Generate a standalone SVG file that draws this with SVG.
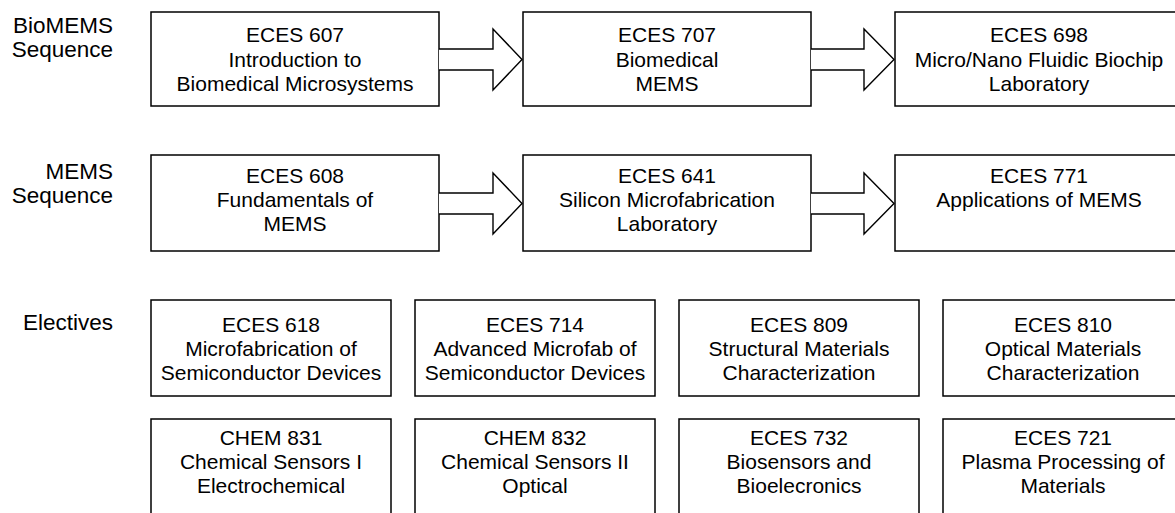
<svg xmlns="http://www.w3.org/2000/svg" width="1175" height="513" viewBox="0 0 1175 513">
<style>
  .box { fill: #fff; stroke: #000; stroke-width: 1.5; }
  .t { font-family: "Liberation Sans", Arial, sans-serif; font-size: 21px; fill: #000; text-anchor: middle; }
  .lbl { font-family: "Liberation Sans", Arial, sans-serif; font-size: 22.5px; fill: #000; text-anchor: end; }
  .arr { fill: #fff; stroke: #000; stroke-width: 1.4; stroke-linejoin: miter; }
</style>
<rect width="1175" height="513" fill="#fff"/>

<g id="labels">
  <text class="lbl" x="113" y="33">BioMEMS</text>
  <text class="lbl" x="113" y="57">Sequence</text>
  <text class="lbl" x="113" y="179">MEMS</text>
  <text class="lbl" x="113" y="203">Sequence</text>
  <text class="lbl" x="113" y="330">Electives</text>
</g>

<g id="ECES607">
  <rect class="box" x="151" y="12" width="288" height="94"/>
  <text class="t" x="295" y="42">ECES 607</text>
  <text class="t" x="295" y="67">Introduction to</text>
  <text class="t" x="295" y="91">Biomedical Microsystems</text>
</g>
<g id="ECES707">
  <rect class="box" x="523" y="12" width="288" height="94"/>
  <text class="t" x="667" y="42">ECES 707</text>
  <text class="t" x="667" y="67">Biomedical</text>
  <text class="t" x="667" y="91">MEMS</text>
</g>
<g id="ECES698">
  <rect class="box" x="895" y="12" width="288" height="94"/>
  <text class="t" x="1039" y="42">ECES 698</text>
  <text class="t" x="1039" y="67">Micro/Nano Fluidic Biochip</text>
  <text class="t" x="1039" y="91">Laboratory</text>
</g>

<g id="ECES608">
  <rect class="box" x="151" y="155" width="288" height="96"/>
  <text class="t" x="295" y="183">ECES 608</text>
  <text class="t" x="295" y="207">Fundamentals of</text>
  <text class="t" x="295" y="231">MEMS</text>
</g>
<g id="ECES641">
  <rect class="box" x="523" y="155" width="288" height="96"/>
  <text class="t" x="667" y="183">ECES 641</text>
  <text class="t" x="667" y="207">Silicon Microfabrication</text>
  <text class="t" x="667" y="231">Laboratory</text>
</g>
<g id="ECES771">
  <rect class="box" x="895" y="155" width="288" height="96"/>
  <text class="t" x="1039" y="183">ECES 771</text>
  <text class="t" x="1039" y="207">Applications of MEMS</text>
</g>

<g id="ECES618">
  <rect class="box" x="151" y="300" width="240" height="96"/>
  <text class="t" x="271" y="332">ECES 618</text>
  <text class="t" x="271" y="356">Microfabrication of</text>
  <text class="t" x="271" y="380">Semiconductor Devices</text>
</g>
<g id="ECES714">
  <rect class="box" x="415" y="300" width="240" height="96"/>
  <text class="t" x="535" y="332">ECES 714</text>
  <text class="t" x="535" y="356">Advanced Microfab of</text>
  <text class="t" x="535" y="380">Semiconductor Devices</text>
</g>
<g id="ECES809">
  <rect class="box" x="679" y="300" width="240" height="96"/>
  <text class="t" x="799" y="332">ECES 809</text>
  <text class="t" x="799" y="356">Structural Materials</text>
  <text class="t" x="799" y="380">Characterization</text>
</g>
<g id="ECES810">
  <rect class="box" x="943" y="300" width="240" height="96"/>
  <text class="t" x="1063" y="332">ECES 810</text>
  <text class="t" x="1063" y="356">Optical Materials</text>
  <text class="t" x="1063" y="380">Characterization</text>
</g>

<g id="CHEM831">
  <rect class="box" x="151" y="419" width="240" height="110"/>
  <text class="t" x="271" y="445">CHEM 831</text>
  <text class="t" x="271" y="469">Chemical Sensors I</text>
  <text class="t" x="271" y="493">Electrochemical</text>
</g>
<g id="CHEM832">
  <rect class="box" x="415" y="419" width="240" height="110"/>
  <text class="t" x="535" y="445">CHEM 832</text>
  <text class="t" x="535" y="469">Chemical Sensors II</text>
  <text class="t" x="535" y="493">Optical</text>
</g>
<g id="ECES732">
  <rect class="box" x="679" y="419" width="240" height="110"/>
  <text class="t" x="799" y="445">ECES 732</text>
  <text class="t" x="799" y="469">Biosensors and</text>
  <text class="t" x="799" y="493">Bioelecronics</text>
</g>
<g id="ECES721">
  <rect class="box" x="943" y="419" width="240" height="110"/>
  <text class="t" x="1063" y="445">ECES 721</text>
  <text class="t" x="1063" y="469">Plasma Processing of</text>
  <text class="t" x="1063" y="493">Materials</text>
</g>

<g id="connectors">
  <path class="arr" d="M439,49 H493 V29 L522,59.5 L493,90 V70 H439"/>
  <path class="arr" d="M811,49 H864 V29 L894,59.5 L864,90 V70 H811"/>
  <path class="arr" d="M439,193 H493 V173 L522,203.5 L493,234 V214 H439"/>
  <path class="arr" d="M811,193 H864 V173 L894,203.5 L864,234 V214 H811"/>
</g>
</svg>
